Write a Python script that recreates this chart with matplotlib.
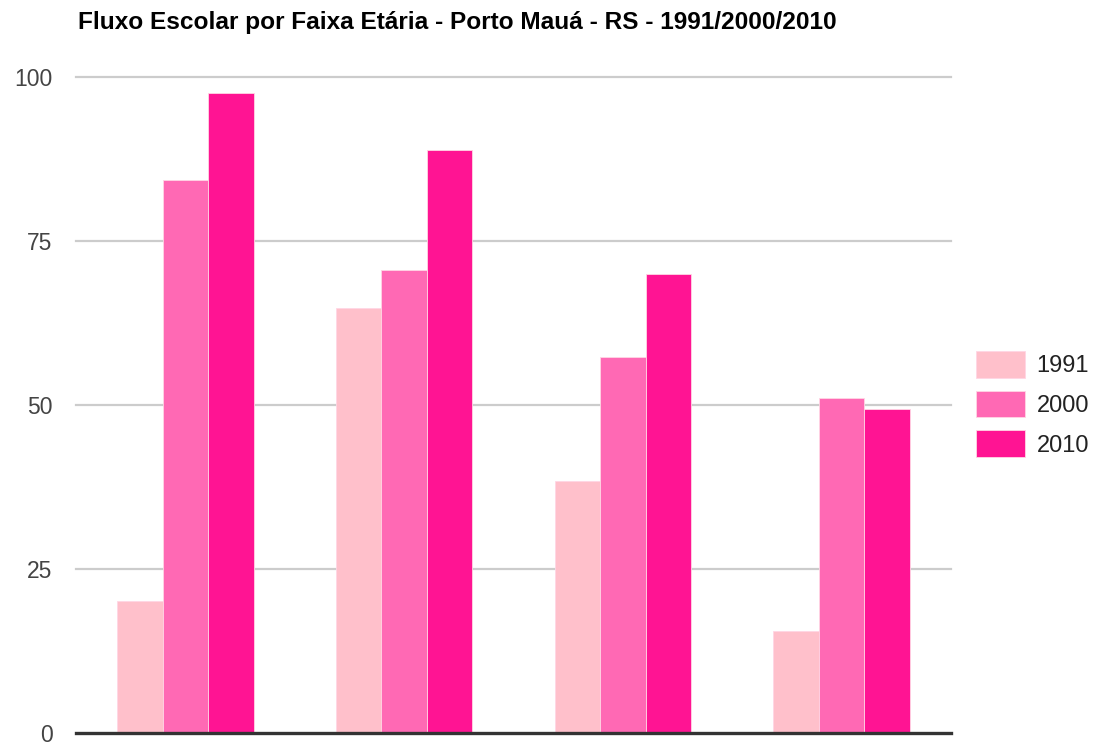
import matplotlib
matplotlib.use("Agg")
import matplotlib.pyplot as plt
import numpy as np

plt.rcParams['font.family'] = ['Liberation Sans', 'DejaVu Sans']

title = "Fluxo Escolar por Faixa Etária - Porto Mauá - RS - 1991/2000/2010"
categories = ["", "", "", ""]
series_names = ["1991", "2000", "2010"]
v1991 = [20.0, 64.7, 38.3, 15.5]
v2000 = [84.3, 70.6, 57.3, 51.1]
v2010 = [97.5, 88.9, 69.9, 49.4]
colors = ["#FFC0CB", "#FF69B4", "#FF1493"]
yticks = [0, 25, 50, 75, 100]

W, H = 1093, 742
fig = plt.figure(figsize=(W / 100, H / 100), dpi=100)
ax_left, ax_right = 76, 951
ax_top, ax_bottom = 77, 732.5
ax = fig.add_axes([ax_left / W, 1 - ax_bottom / H, (ax_right - ax_left) / W, (ax_bottom - ax_top) / H])

x = np.arange(len(categories))
bw = 0.208
for i, (vals, name, c) in enumerate(zip([v1991, v2000, v2010], series_names, colors)):
    ax.bar(x + (i - 1) * bw, vals, width=bw, color=c, label=name, zorder=3,
           edgecolor="#ffd6e4", linewidth=0.6)

ax.set_xlim(-0.5, len(categories) - 0.5)
ax.set_ylim(0, 100)
ax.set_xticks([])
ax.set_yticks(yticks)
ax.set_yticklabels([str(t) for t in yticks])
for lab in ax.get_yticklabels():
    lab.set_fontsize(16.5)
    lab.set_color("#444444")
ax.tick_params(axis='y', length=0, pad=17)
for t in yticks[1:]:
    ax.axhline(t, color="#cccccc", linewidth=1.6, zorder=1, clip_on=False)
ax.axhline(0, color="#333333", linewidth=2.4, zorder=4, clip_on=False)
for s in ax.spines.values():
    s.set_visible(False)

fig.text(78 / W, 1 - 23 / H, title, fontsize=17.6, fontweight='bold', ha='left', va='center', color='black')

fig.legend(loc='center left', bbox_to_anchor=(976 / W, 1 - 404 / H), frameon=False,
           fontsize=17, handlelength=2.07, handleheight=1.37, labelspacing=0.55,
           handletextpad=0.5, borderpad=0, borderaxespad=0, labelcolor="#222222")

fig.savefig("out.png", dpi=100, facecolor="white")
